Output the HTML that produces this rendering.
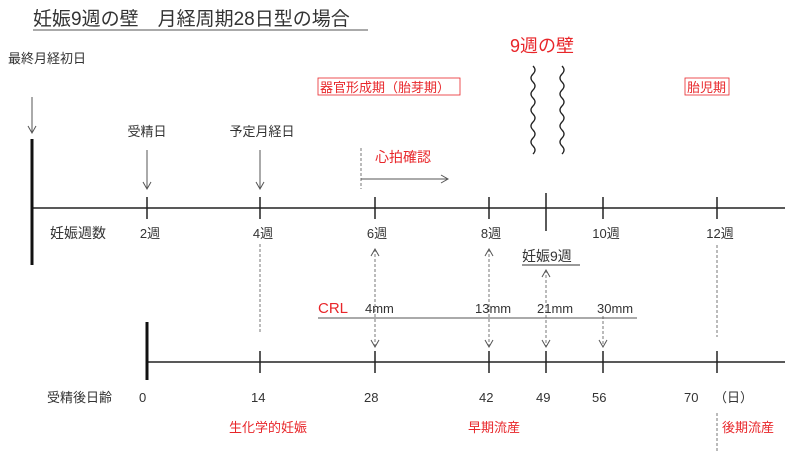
<!DOCTYPE html>
<html><head><meta charset="utf-8"><style>
html,body{margin:0;padding:0;background:#fff}
svg{display:block}
text{font-family:"Liberation Sans","Noto Sans CJK JP",sans-serif;fill:#333}
.r{fill:#e8262a}
</style></head><body>
<svg width="800" height="453" viewBox="0 0 800 453">
<defs>
<marker id="a" markerWidth="10" markerHeight="10" refX="8" refY="5" orient="auto-start-reverse" markerUnits="userSpaceOnUse"><path d="M1,1 L8,5 L1,9" fill="none" stroke="#555" stroke-width="1"/></marker>
</defs>
<text x="33" y="25" font-size="19">妊娠9週の壁　月経周期28日型の場合</text>
<line x1="33" y1="30" x2="368" y2="30" stroke="#555" stroke-width="1"/>
<text x="8" y="63" font-size="13">最終月経初日</text>
<line x1="32" y1="97" x2="32" y2="133" stroke="#555" marker-end="url(#a)"/>
<text x="147" y="136" font-size="13" text-anchor="middle">受精日</text>
<line x1="147" y1="150" x2="147" y2="189" stroke="#555" marker-end="url(#a)"/>
<text x="262" y="136" font-size="13" text-anchor="middle">予定月経日</text>
<line x1="260" y1="150" x2="260" y2="189" stroke="#555" marker-end="url(#a)"/>
<rect x="318" y="78" width="142" height="17" fill="none" stroke="#e8262a" stroke-width="0.8"/>
<text x="320" y="92" font-size="13" class="r">器官形成期（胎芽期）</text>
<rect x="685" y="78" width="44" height="17" fill="none" stroke="#e8262a" stroke-width="0.8"/>
<text x="687" y="92" font-size="13" class="r">胎児期</text>
<text x="510" y="52" font-size="18" class="r">9週の壁</text>
<path d="M533 66 q4 4 0 8 t0 8 t0 8 t0 8 t0 8 t0 8 t0 8 t0 8 t0 8 t0 8 t0 8" fill="none" stroke="#222" stroke-width="1.3"/>
<path d="M562 66 q4 4 0 8 t0 8 t0 8 t0 8 t0 8 t0 8 t0 8 t0 8 t0 8 t0 8 t0 8" fill="none" stroke="#222" stroke-width="1.3"/>
<text x="375" y="162" font-size="14" class="r">心拍確認</text>
<line x1="361" y1="148" x2="361" y2="189" stroke="#777" stroke-dasharray="3,2"/>
<line x1="361" y1="179" x2="448" y2="179" stroke="#555" marker-end="url(#a)"/>
<line x1="32" y1="208" x2="785" y2="208" stroke="#222" stroke-width="1.5"/>
<line x1="32" y1="139" x2="32" y2="265" stroke="#111" stroke-width="3"/>
<g stroke="#222" stroke-width="1.5">
<line x1="147" y1="197" x2="147" y2="219"/><line x1="260" y1="197" x2="260" y2="219"/>
<line x1="375" y1="197" x2="375" y2="219"/><line x1="489" y1="197" x2="489" y2="219"/>
<line x1="546" y1="193" x2="546" y2="231"/><line x1="603" y1="197" x2="603" y2="219"/>
<line x1="717" y1="197" x2="717" y2="219"/>
</g>
<text x="50" y="238" font-size="14">妊娠週数</text>
<g font-size="13" text-anchor="middle">
<text x="150" y="238">2週</text><text x="263" y="238">4週</text><text x="377" y="238">6週</text>
<text x="491" y="238">8週</text><text x="606" y="238">10週</text><text x="720" y="238">12週</text>
</g>
<text x="522" y="261" font-size="14">妊娠9週</text>
<line x1="522" y1="265" x2="580" y2="265" stroke="#333"/>
<g stroke="#777" stroke-dasharray="3,2" fill="none">
<line x1="260" y1="244" x2="260" y2="333"/>
<line x1="375" y1="249" x2="375" y2="347" marker-end="url(#a)" marker-start="url(#a)"/>
<line x1="489" y1="249" x2="489" y2="347" marker-end="url(#a)" marker-start="url(#a)"/>
<line x1="546" y1="270" x2="546" y2="347" marker-end="url(#a)" marker-start="url(#a)"/>
<line x1="603" y1="316" x2="603" y2="347" marker-end="url(#a)"/>
<line x1="717" y1="245" x2="717" y2="337"/>
<line x1="717" y1="413" x2="717" y2="453"/>
</g>
<text x="318" y="313" font-size="15" class="r">CRL</text>
<line x1="318" y1="318" x2="637" y2="318" stroke="#555"/>
<g font-size="13"><text x="365" y="313">4mm</text><text x="475" y="313">13mm</text><text x="537" y="313">21mm</text><text x="597" y="313">30mm</text></g>
<line x1="147" y1="362" x2="785" y2="362" stroke="#222" stroke-width="1.5"/>
<line x1="147" y1="322" x2="147" y2="380" stroke="#111" stroke-width="3"/>
<g stroke="#222" stroke-width="1.5">
<line x1="260" y1="351" x2="260" y2="373"/><line x1="375" y1="351" x2="375" y2="373"/>
<line x1="489" y1="351" x2="489" y2="373"/><line x1="546" y1="351" x2="546" y2="373"/>
<line x1="603" y1="351" x2="603" y2="373"/><line x1="717" y1="351" x2="717" y2="373"/>
</g>
<g font-size="13">
<text x="47" y="402">受精後日齢</text><text x="139" y="402">0</text><text x="251" y="402">14</text>
<text x="364" y="402">28</text><text x="479" y="402">42</text><text x="536" y="402">49</text>
<text x="592" y="402">56</text><text x="684" y="402">70</text><text x="714" y="402">（日）</text>
</g>
<g font-size="13">
<text x="229" y="432" class="r">生化学的妊娠</text><text x="468" y="432" class="r">早期流産</text><text x="722" y="432" class="r">後期流産</text>
</g>
</svg>
</body></html>
